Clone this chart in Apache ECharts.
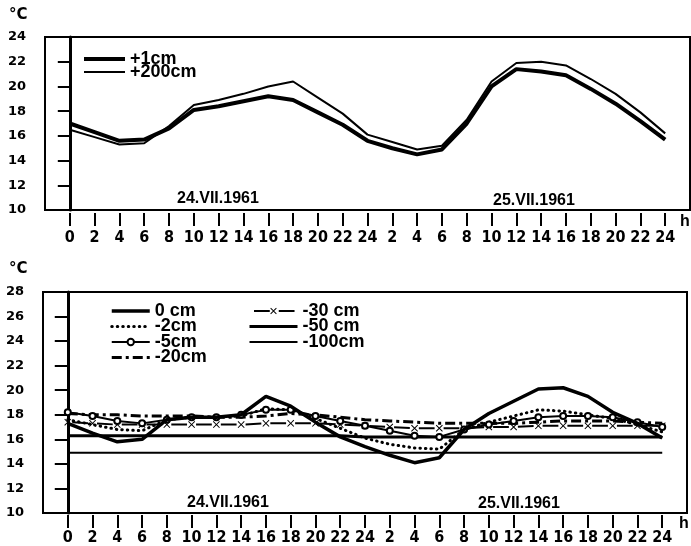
<!DOCTYPE html>
<html><head><meta charset="utf-8">
<script src="https://cdn.jsdelivr.net/npm/echarts@6/dist/echarts.min.js"></script>
<style>html,body{margin:0;padding:0;background:#fff}#c{width:691px;height:546px}</style>
</head><body><div id="c"></div>
<script>
// ---- data ----
const hours = [0,2,4,6,8,10,12,14,16,18,20,22,24,26,28,30,32,34,36,38,40,42,44,46,48];
const hourLabels = ['0','2','4','6','8','10','12','14','16','18','20','22','24','2','4','6','8','10','12','14','16','18','20','22','24'];
const dayLabels = ['24.VII.1961','25.VII.1961'];

// air temperature (upper panel)
const air1cm   = [17.0,16.3,15.6,15.7,16.6,18.1,18.4,18.8,19.2,18.9,17.9,16.9,15.6,15.0,14.5,14.9,17.0,20.0,21.4,21.2,20.9,19.8,18.6,17.2,15.7];
const air200cm = [16.5,15.9,15.3,15.4,16.8,18.5,18.9,19.4,20.0,20.4,19.1,17.8,16.1,15.5,14.9,15.2,17.3,20.4,21.9,22.0,21.7,20.6,19.4,17.9,16.2];

// soil temperature (lower panel)
const soil0   = [17.3,16.5,15.8,16.0,17.6,17.8,17.8,18.0,19.5,18.7,17.4,16.2,15.4,14.7,14.1,14.5,16.8,18.1,19.1,20.1,20.2,19.5,18.2,17.3,16.1];
const soil2   = [17.6,17.2,16.8,16.7,17.6,17.8,17.8,17.9,18.5,18.4,17.7,16.9,16.1,15.6,15.3,15.2,16.8,17.4,17.9,18.4,18.3,18.0,17.7,17.2,16.6];
const soil5   = [18.2,17.9,17.5,17.3,17.6,17.8,17.8,18.0,18.4,18.4,17.9,17.5,17.1,16.7,16.3,16.2,16.8,17.2,17.5,17.8,17.9,17.9,17.8,17.4,17.0];
const soil20  = [18.1,18.0,18.0,17.9,17.9,17.9,17.8,17.8,17.9,18.1,18.0,17.8,17.6,17.5,17.4,17.3,17.3,17.3,17.3,17.4,17.5,17.5,17.5,17.4,17.3];
const soil30  = [17.4,17.3,17.2,17.2,17.2,17.2,17.2,17.2,17.3,17.3,17.3,17.2,17.1,17.0,16.9,16.9,16.9,17.0,17.0,17.1,17.1,17.1,17.1,17.1,17.1];
const soil50  = [16.3,16.3,16.3,16.3,16.3,16.3,16.3,16.3,16.3,16.3,16.3,16.3,16.2,16.2,16.2,16.2,16.2,16.2,16.2,16.2,16.2,16.2,16.2,16.2,16.2];
const soil100 = [14.9,14.9,14.9,14.9,14.9,14.9,14.9,14.9,14.9,14.9,14.9,14.9,14.9,14.9,14.9,14.9,14.9,14.9,14.9,14.9,14.9,14.9,14.9,14.9,14.9];

const names = {a1:'+1cm', a200:'+200cm', s0:'0 cm', s2:'-2cm', s5:'-5cm', s20:'-20cm', s30:'-30 cm', s50:'-50 cm', s100:'-100cm'};

// ---- chart ----
const FONT = '"Liberation Sans", Arial, sans-serif';
const FONT_WIDE = '"DejaVu Sans", sans-serif';
const FONT_NARROW = '"Liberation Sans Narrow", "DejaVu Sans Condensed", sans-serif';
const pair = arr => hours.map((h,i)=>[h, arr[i]]);

const grids = [
  {left:45, top:37, width:645, height:173},
  {left:43, top:292, width:644, height:221}
];
const step2h = grids[1].width/52*2;

const W = {a1:4, a200:2, s0:3.5, s2:3, s5:2, s20:3, s30:2, s50:3, s100:2};

function xAxisCfg(gi, off, margin){
  return {type:'value', gridIndex:gi, min:-2, max:50, interval:2, offset:off,
    axisLine:{show:false}, splitLine:{show:false},
    axisTick:{show:true, customValues:hours, length:13, lineStyle:{color:'#000', width:2}},
    axisLabel:{customValues:hours, margin:margin, color:'#000', fontFamily:FONT_NARROW, fontWeight:'bold', fontSize:16,
      formatter:v=>hourLabels[hours.indexOf(v)]}};
}
function yAxisCfg(gi, max, tlen, lm){
  return {type:'value', gridIndex:gi, min:10, max:max, interval:2,
    axisLine:{show:true, lineStyle:{color:'#000', width:3}},
    axisTick:{show:true, length:tlen, lineStyle:{color:'#000', width:2}},
    splitLine:{show:false},
    axisLabel:{margin:lm, color:'#000', fontFamily:FONT_WIDE, fontWeight:'bold', fontSize:13}};
}
function line(key, data, gi, ls, extra){
  return Object.assign({type:'line', name:names[key], data:pair(data), xAxisIndex:gi, yAxisIndex:gi,
    symbol:'circle', showSymbol:false, animation:false,
    lineStyle:Object.assign({color:'#000', width:W[key]}, ls), itemStyle:{color:'#000'}}, extra||{});
}
const xMark = 'path://M0,1L1,0L5,4L9,0L10,1L6,5L10,9L9,10L5,6L1,10L0,9L4,5Z';
const leg = (key, sym) => sym ? {name:names[key], lineStyle:{width:W[key]}}
                              : {name:names[key], lineStyle:{width:W[key]}, itemStyle:{opacity:0}};

const legendText = {color:'#000', fontFamily:FONT, fontWeight:'bold', fontSize:18};

const option = {
  backgroundColor:'#fff',
  animation:false,
  grid: grids.map(g=>Object.assign({show:true, borderColor:'#000', borderWidth:2, backgroundColor:'transparent'}, g)),
  xAxis:[xAxisCfg(0,3,17), xAxisCfg(1,2,15)],
  yAxis:[yAxisCfg(0,24,12,19), yAxisCfg(1,28,13,19)],
  legend:[
    {data:[leg('a1'), leg('a200')], left:82, top:50, padding:0, orient:'vertical', itemWidth:41, itemHeight:8, itemGap:-5,
      selectedMode:false, textStyle:legendText},
    {data:[leg('s0'), leg('s2'), leg('s5',true), leg('s20')], left:110, top:302, padding:0, orient:'vertical', itemWidth:38, itemHeight:8, itemGap:-2.5,
      selectedMode:false, textStyle:legendText},
    {data:[leg('s30',true), leg('s50'), leg('s100')], left:248, top:302, padding:0, orient:'vertical', itemWidth:48, itemHeight:8, itemGap:-2.5,
      selectedMode:false, textStyle:legendText}
  ],
  series:[
    line('a1', air1cm, 0, {}, {z:3}),
    line('a200', air200cm, 0, {}),
    line('s100', soil100, 1, {}),
    line('s50', soil50, 1, {}),
    line('s30', soil30, 1, {type:[step2h-9, 9], dashOffset:step2h-4.5},
      {symbol:xMark, symbolSize:7, showSymbol:true}),
    line('s20', soil20, 1, {type:[10,4,3,4]}),
    line('s5', soil5, 1, {}, {symbol:'emptyCircle', symbolSize:6, showSymbol:true,
      itemStyle:{color:'#000', borderColor:'#000', borderWidth:1.5}}),
    line('s2', soil2, 1, {type:[0.5,5], cap:'round'}),
    line('s0', soil0, 1, {}, {z:4})
  ],
  graphic:[
    {type:'text', left:9, top:8, style:{text:'°C', fill:'#000', font:'bold 15px '+FONT_WIDE}},
    {type:'text', left:9, top:262, style:{text:'°C', fill:'#000', font:'bold 15px '+FONT_WIDE}},
    {type:'text', left:680, top:214, style:{text:'h', fill:'#000', font:'bold 16px '+FONT}},
    {type:'text', left:679, top:516, style:{text:'h', fill:'#000', font:'bold 16px '+FONT}},
    {type:'text', left:177, top:191, style:{text:dayLabels[0], fill:'#000', font:'bold 16px '+FONT}},
    {type:'text', left:493, top:193, style:{text:dayLabels[1], fill:'#000', font:'bold 16px '+FONT}},
    {type:'text', left:187, top:495, style:{text:dayLabels[0], fill:'#000', font:'bold 16px '+FONT}},
    {type:'text', left:478, top:496, style:{text:dayLabels[1], fill:'#000', font:'bold 16px '+FONT}}
  ]
};
const chart = echarts.init(document.getElementById('c'), null, {renderer:'canvas'});
chart.setOption(option);
</script></body></html>
